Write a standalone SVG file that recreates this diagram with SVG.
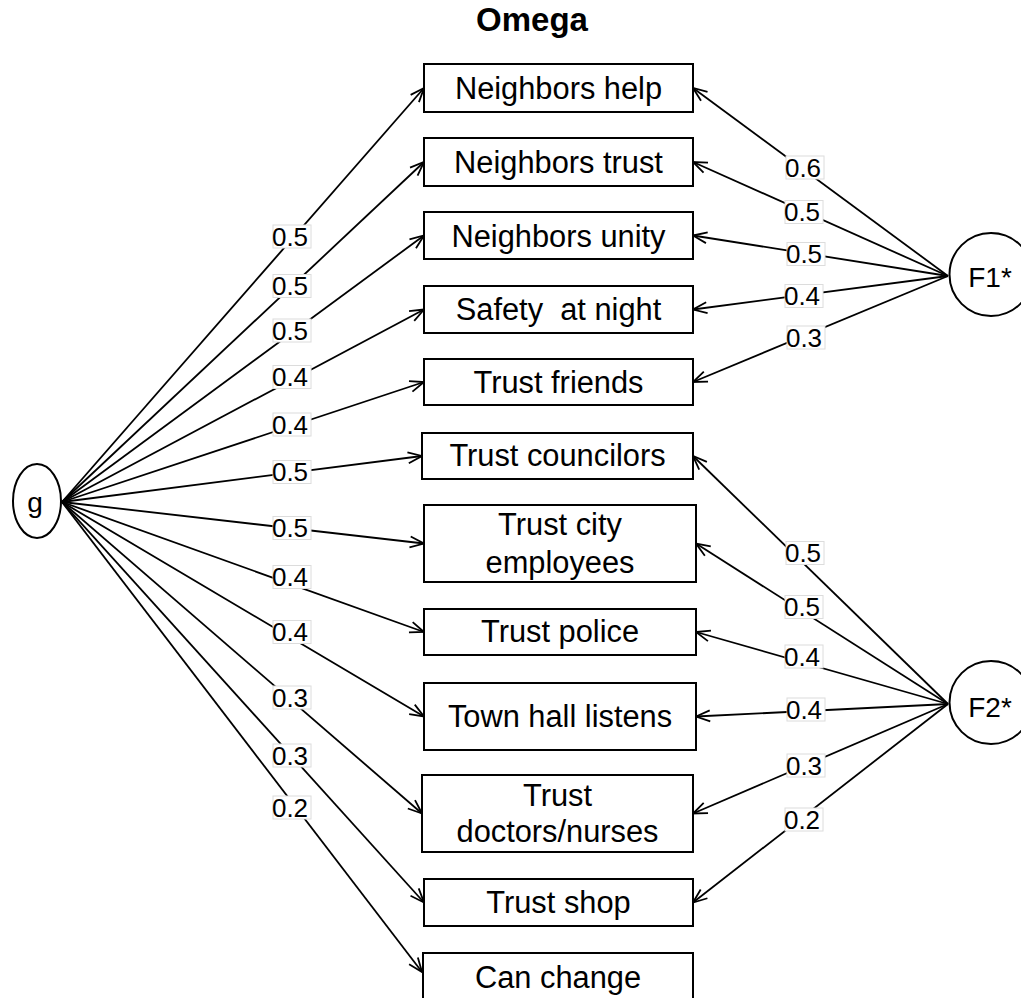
<svg xmlns="http://www.w3.org/2000/svg" width="1021" height="998" viewBox="0 0 1021 998">
<style>
.box{fill:#fff;stroke:#000;stroke-width:2}
.bt{font-family:"Liberation Sans",Arial,sans-serif;font-size:30.8px;fill:#000;text-anchor:middle}
.nt{font-family:"Liberation Sans",Arial,sans-serif;font-size:28px;fill:#000;text-anchor:middle}
.edge{stroke:#000;stroke-width:1.8;fill:none;marker-end:url(#arr)}
.lb{fill:#fff;stroke:#dcdcdc;stroke-width:1}
.lt{font-family:"Liberation Sans",Arial,sans-serif;font-size:26px;fill:#000;text-anchor:middle}
.title{font-family:"Liberation Sans",Arial,sans-serif;font-size:33px;font-weight:bold;fill:#000;text-anchor:middle}
</style>
<defs>
<marker id="arr" viewBox="-2 -2 18 16" refX="14" refY="6" markerWidth="18" markerHeight="16" markerUnits="userSpaceOnUse" orient="auto">
<path d="M0,0.5 L14,6 L0,11.5" fill="none" stroke="#000" stroke-width="1.8"/>
</marker>
</defs>
<rect width="1021" height="998" fill="#fff"/>
<text class="title" x="532" y="31">Omega</text>
<g id="connectors">
<path class="edge" d="M62,502 L424,88"/>
<path class="edge" d="M62,502 L424,162"/>
<path class="edge" d="M62,502 L424,235.5"/>
<path class="edge" d="M62,502 L424,309.5"/>
<path class="edge" d="M62,502 L424,382"/>
<path class="edge" d="M62,502 L422,456"/>
<path class="edge" d="M62,502 L424,543.5"/>
<path class="edge" d="M62,502 L424,632"/>
<path class="edge" d="M62,502 L424,716.5"/>
<path class="edge" d="M62,502 L422,813.5"/>
<path class="edge" d="M62,502 L424,902.5"/>
<path class="edge" d="M62,502 L422,972"/>
<path class="edge" d="M948,276 L693,88"/>
<path class="edge" d="M948,276 L693,162"/>
<path class="edge" d="M948,276 L693,235.5"/>
<path class="edge" d="M948,276 L693,309.5"/>
<path class="edge" d="M948,276 L693,382"/>
<path class="edge" d="M948,704 L693,456"/>
<path class="edge" d="M948,704 L696,543.5"/>
<path class="edge" d="M948,704 L696,632"/>
<path class="edge" d="M948,704 L696,716.5"/>
<path class="edge" d="M948,704 L693,813.5"/>
<path class="edge" d="M948,704 L693,902.5"/>
<g id="edge-labels">
<rect class="lb" x="273" y="225" width="38" height="23"/><text class="lt" x="290" y="245.8">0.5</text>
<rect class="lb" x="273" y="274.5" width="38" height="23"/><text class="lt" x="290" y="295.3">0.5</text>
<rect class="lb" x="273" y="319" width="38" height="23"/><text class="lt" x="290" y="339.8">0.5</text>
<rect class="lb" x="273" y="365.5" width="38" height="23"/><text class="lt" x="290" y="386.3">0.4</text>
<rect class="lb" x="273" y="413" width="38" height="23"/><text class="lt" x="290" y="433.8">0.4</text>
<rect class="lb" x="273" y="460.5" width="38" height="23"/><text class="lt" x="290" y="481.3">0.5</text>
<rect class="lb" x="273" y="516.5" width="38" height="23"/><text class="lt" x="290" y="537.3">0.5</text>
<rect class="lb" x="273" y="565.5" width="38" height="23"/><text class="lt" x="290" y="586.3">0.4</text>
<rect class="lb" x="273" y="620.5" width="38" height="23"/><text class="lt" x="290" y="641.3">0.4</text>
<rect class="lb" x="273" y="686" width="38" height="23"/><text class="lt" x="290" y="706.8">0.3</text>
<rect class="lb" x="273" y="744" width="38" height="23"/><text class="lt" x="290" y="764.8">0.3</text>
<rect class="lb" x="273" y="796" width="38" height="23"/><text class="lt" x="290" y="816.8">0.2</text>
<rect class="lb" x="786" y="156" width="38" height="23"/><text class="lt" x="803" y="176.8">0.6</text>
<rect class="lb" x="785" y="200.5" width="38" height="23"/><text class="lt" x="802" y="221.3">0.5</text>
<rect class="lb" x="787" y="242.5" width="38" height="23"/><text class="lt" x="804" y="263.3">0.5</text>
<rect class="lb" x="785" y="284.5" width="38" height="23"/><text class="lt" x="802" y="305.3">0.4</text>
<rect class="lb" x="787" y="326" width="38" height="23"/><text class="lt" x="804" y="346.8">0.3</text>
<rect class="lb" x="786" y="541.5" width="38" height="23"/><text class="lt" x="803" y="562.3">0.5</text>
<rect class="lb" x="785" y="595.5" width="38" height="23"/><text class="lt" x="802" y="616.3">0.5</text>
<rect class="lb" x="785" y="645" width="38" height="23"/><text class="lt" x="802" y="665.8">0.4</text>
<rect class="lb" x="787" y="698" width="38" height="23"/><text class="lt" x="804" y="718.8">0.4</text>
<rect class="lb" x="787" y="754" width="38" height="23"/><text class="lt" x="804" y="774.8">0.3</text>
<rect class="lb" x="785" y="808" width="38" height="23"/><text class="lt" x="802" y="828.8">0.2</text>
</g>
</g>
<g id="node-g"><ellipse cx="37" cy="501" rx="24" ry="37" fill="#fff" stroke="#000" stroke-width="2"/><text class="nt" x="35" y="512">g</text></g>
<g id="node-F1"><circle cx="991" cy="274.5" r="41.5" fill="#fff" stroke="#000" stroke-width="2"/><text class="nt" x="990" y="287">F1*</text></g>
<g id="node-F2"><circle cx="991" cy="702.5" r="41.5" fill="#fff" stroke="#000" stroke-width="2"/><text class="nt" x="990" y="716.5">F2*</text></g>
<g id="node-neighbors-help"><rect class="box" x="424" y="64" width="269" height="48"/><text class="bt" x="558.5" y="99">Neighbors help</text></g>
<g id="node-neighbors-trust"><rect class="box" x="424" y="138" width="269" height="48"/><text class="bt" x="558.5" y="173">Neighbors trust</text></g>
<g id="node-neighbors-unity"><rect class="box" x="424" y="212" width="269" height="47"/><text class="bt" x="558.5" y="246.5">Neighbors unity</text></g>
<g id="node-safety"><rect class="box" x="424" y="286" width="269" height="47"/><text class="bt" x="558.5" y="320" xml:space="preserve">Safety  at night</text></g>
<g id="node-trust-friends"><rect class="box" x="424" y="359" width="269" height="46"/><text class="bt" x="558.5" y="393">Trust friends</text></g>
<g id="node-trust-councilors"><rect class="box" x="422" y="433" width="271" height="46"/><text class="bt" x="557.5" y="466">Trust councilors</text></g>
<g id="node-trust-city"><rect class="box" x="424" y="505" width="272" height="77"/><text class="bt" x="560" y="535">Trust city</text><text class="bt" x="560" y="572.5">employees</text></g>
<g id="node-trust-police"><rect class="box" x="424" y="609" width="272" height="46"/><text class="bt" x="560" y="642">Trust police</text></g>
<g id="node-town-hall"><rect class="box" x="424" y="683" width="272" height="67"/><text class="bt" x="560" y="727">Town hall listens</text></g>
<g id="node-trust-doctors"><rect class="box" x="422" y="775" width="271" height="77"/><text class="bt" x="557.5" y="805.5">Trust</text><text class="bt" x="557.5" y="841.5">doctors/nurses</text></g>
<g id="node-trust-shop"><rect class="box" x="424" y="879" width="269" height="47"/><text class="bt" x="558.5" y="913">Trust shop</text></g>
<g id="node-can-change"><rect class="box" x="423" y="953" width="270" height="60"/><text class="bt" x="558" y="988">Can change</text></g>
</svg>
